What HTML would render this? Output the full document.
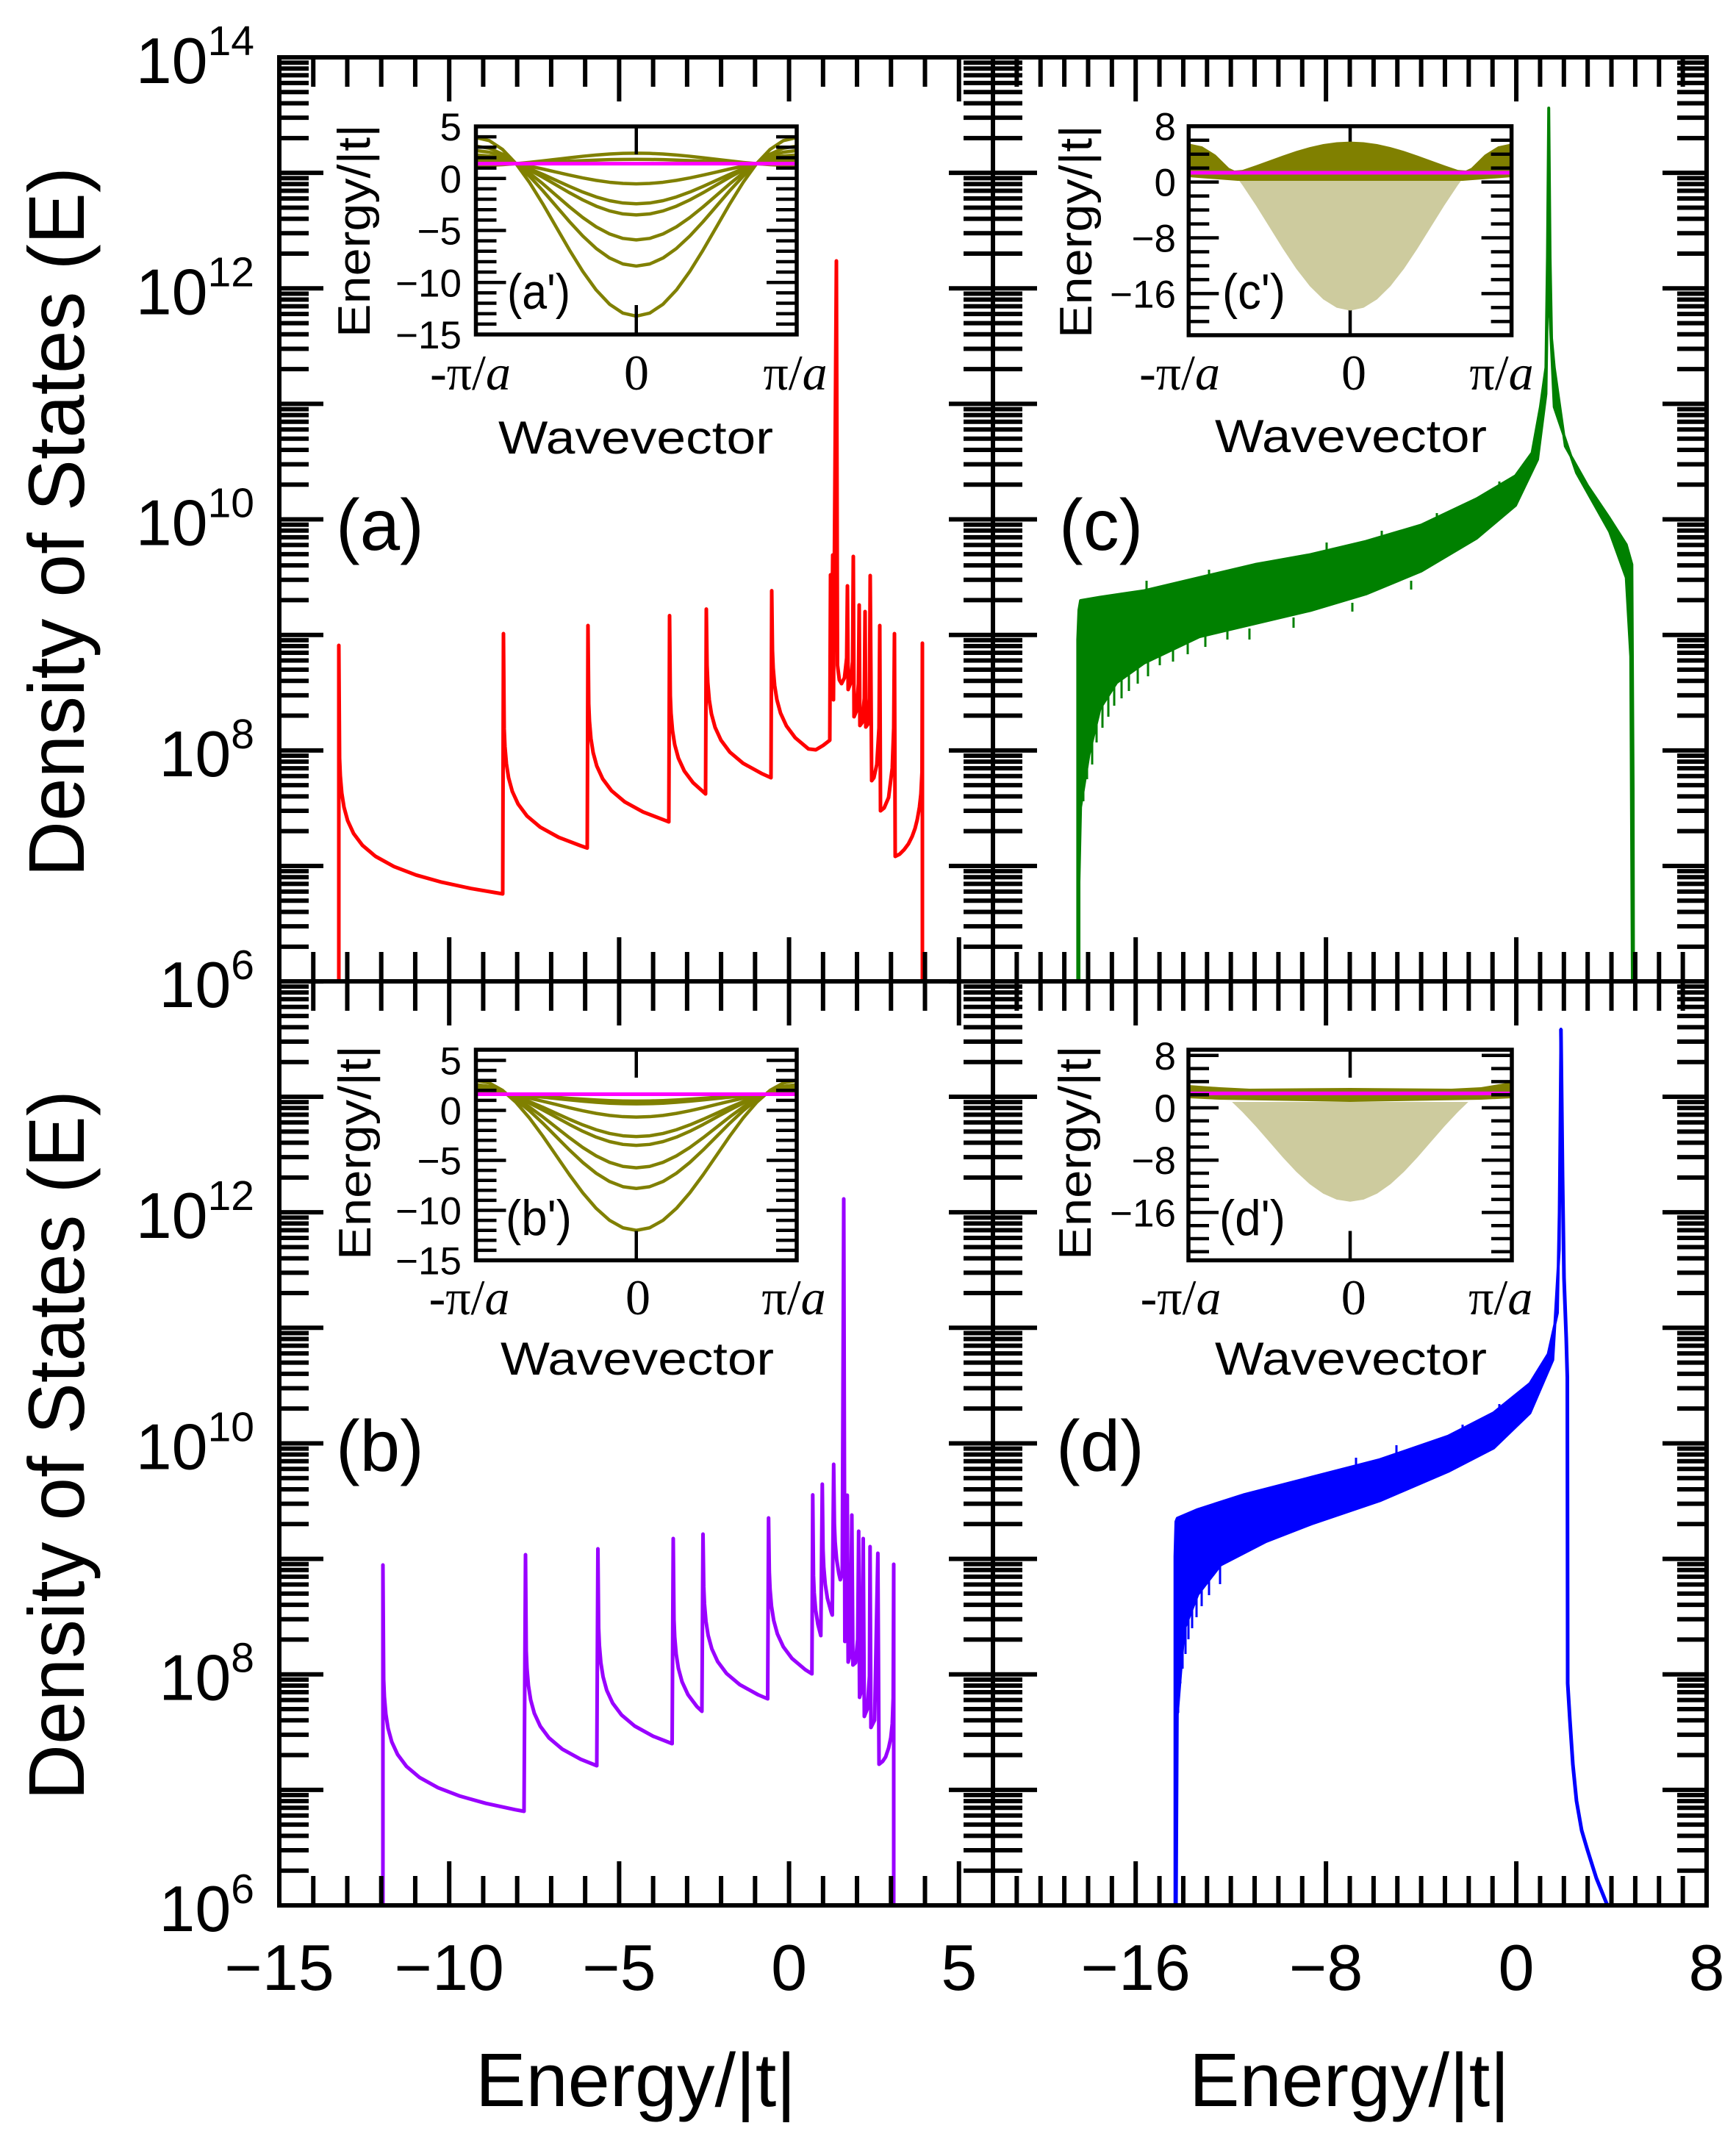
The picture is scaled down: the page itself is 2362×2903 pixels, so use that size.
<!DOCTYPE html>
<html><head><meta charset="utf-8"><style>
html,body{margin:0;padding:0;background:#fff}
svg{display:block}
text{font-family:"Liberation Sans",Arial,sans-serif;fill:#000}
.sf{font-family:"Liberation Serif","Times New Roman",serif}
</style></head><body>
<svg width="2362" height="2903" viewBox="0 0 2362 2903" xmlns="http://www.w3.org/2000/svg">
<defs>
<path id="dL" d="M0,0h60M0,-47.3h40M0,-74.98h40M0,-94.61h40M0,-109.84h40M0,-122.28h40M0,-132.8h40M0,-141.91h40M0,-149.95h40" stroke="#000" stroke-width="6" fill="none"/>
<path id="dR" d="M0,0h-60M0,-47.3h-40M0,-74.98h-40M0,-94.61h-40M0,-109.84h-40M0,-122.28h-40M0,-132.8h-40M0,-141.91h-40M0,-149.95h-40" stroke="#000" stroke-width="6" fill="none"/>
<g id="colL"><use href="#dL" y="0"/><use href="#dL" y="-157.14"/><use href="#dL" y="-314.28"/><use href="#dL" y="-471.42"/><use href="#dL" y="-628.56"/><use href="#dL" y="-785.7"/><use href="#dL" y="-942.84"/><use href="#dL" y="-1099.98"/></g>
<g id="colR"><use href="#dR" y="0"/><use href="#dR" y="-157.14"/><use href="#dR" y="-314.28"/><use href="#dR" y="-471.42"/><use href="#dR" y="-628.56"/><use href="#dR" y="-785.7"/><use href="#dR" y="-942.84"/><use href="#dR" y="-1099.98"/></g>
<path id="xL" stroke="#000" stroke-width="6" fill="none" d="M426.24,0v40M472.48,0v40M518.71,0v40M564.95,0v40M611.19,0v60M657.43,0v40M703.67,0v40M749.9,0v40M796.14,0v40M842.38,0v60M888.62,0v40M934.86,0v40M981.09,0v40M1027.33,0v40M1073.57,0v60M1119.81,0v40M1166.05,0v40M1212.28,0v40M1258.52,0v40M1304.76,0v60"/>
<path id="xR" stroke="#000" stroke-width="6" fill="none" d="M1383.37,0v40M1415.73,0v40M1448.1,0v40M1480.47,0v40M1512.84,0v40M1545.2,0v60M1577.57,0v40M1609.94,0v40M1642.3,0v40M1674.67,0v40M1707.04,0v40M1739.4,0v40M1771.77,0v40M1804.14,0v60M1836.51,0v40M1868.87,0v40M1901.24,0v40M1933.61,0v40M1965.97,0v40M1998.34,0v40M2030.71,0v40M2063.07,0v60M2095.44,0v40M2127.81,0v40M2160.17,0v40M2192.54,0v40M2224.91,0v40M2257.28,0v40M2289.64,0v40"/>
<path id="tA" stroke="#000" stroke-width="4.5" fill="none" d="M0,186.15h28M0,200.3h28M0,214.45h28M0,228.6h28M0,242.75h41M0,256.9h28M0,271.05h28M0,285.2h28M0,299.35h28M0,313.5h41M0,327.65h28M0,341.8h28M0,355.95h28M0,370.1h28M0,384.25h41M0,398.4h28M0,412.55h28M0,426.7h28M0,440.85h28"/>
<path id="tB" stroke="#000" stroke-width="4.5" fill="none" d="M0,1442.5h41M0,1456.1h28M0,1469.7h28M0,1483.3h28M0,1496.9h28M0,1510.5h41M0,1524.1h28M0,1537.7h28M0,1551.3h28M0,1564.9h28M0,1578.5h41M0,1592.1h28M0,1605.7h28M0,1619.3h28M0,1632.9h28M0,1646.5h41M0,1660.1h28M0,1673.7h28M0,1687.3h28M0,1700.9h28"/>
<path id="tC" stroke="#000" stroke-width="4.5" fill="none" d="M0,190.7h28M0,209.7h28M0,228.6h28M0,247.6h41M0,266.6h28M0,285.6h28M0,304.6h28M0,323.5h41M0,342.5h28M0,361.5h28M0,380.4h28M0,399.4h41M0,418.4h28M0,437.4h28"/>
<path id="tD" stroke="#000" stroke-width="4.5" fill="none" d="M0,1435.8h41M0,1453.6h28M0,1471.4h28M0,1489.2h28M0,1507h41M0,1524.8h28M0,1542.6h28M0,1560.4h28M0,1578.2h41M0,1596h28M0,1613.8h28M0,1631.6h28M0,1649.4h41M0,1667.2h28M0,1685h28M0,1702.8h28"/>
<clipPath id="cpa"><rect x="380" y="78" width="971" height="1257"/></clipPath>
<clipPath id="cpb"><rect x="380" y="1335" width="971" height="1257"/></clipPath>
<clipPath id="cpc"><rect x="1351" y="78" width="971" height="1257"/></clipPath>
<clipPath id="cpd"><rect x="1351" y="1335" width="971" height="1257"/></clipPath>
</defs>
<rect x="0" y="0" width="2362" height="2903" fill="#fff"/>

<!-- DATA (a) red -->
<g clip-path="url(#cpa)">
<path fill="none" stroke="#ff0000" stroke-width="5" stroke-linejoin="round" d="M461,1335 L461,878 L462,1031.5 L463,1055.2 L465,1078.8 L468,1097.9 L473,1116.3 L481,1133.7 L493,1149.8 L511,1165 L536,1178.8 L566,1190.3 L601,1200.1 L641,1208.7 L684,1216 L685,862 L686,991.7 L687,1015.4 L689,1039 L692,1058.1 L697,1076.5 L705,1093.9 L717,1110 L735,1125.2 L760,1139 L790,1150.5 L799,1153.6 L800,851 L801,957.3 L802,981 L804,1004.6 L807,1023.7 L812,1042.1 L820,1059.5 L832,1075.6 L850,1090.8 L875,1104.6 L905,1116.1 L910,1118 L911,837.5 L912,946.5 L913,970.2 L915,993.8 L918,1012.9 L923,1031.3 L931,1048.7 L943,1064.8 L960,1080 L961,828.6 L962,904.8 L963,928.5 L965,952.1 L968,971.2 L973,989.6 L981,1007 L993,1023.1 L1011,1038.3 L1036,1052.1 L1049,1058 L1050,803.6 L1051,885 L1052,909 L1054,932.6 L1057,951.7 L1062,970.1 L1070,987.5 L1082,1003.6 L1100,1018.8 L1110,1020 L1120,1014 L1129,1007 L1130,782 L1131,950 L1133,755 L1134,952 L1138,355 L1139.5,905 L1142,925 L1145,930 L1149,922 L1152,895 L1153,797 L1154,938 L1157,930 L1160,900 L1161,757 L1162,975 L1165,968 L1168,930 L1169,823 L1170,987 L1173,983 L1176,950 L1177,832 L1178,989 L1181,985 L1183,950 L1184,783 L1186,1062 L1189,1058 L1193,1040 L1196,990 L1197,851 L1198,1103 L1203,1099 L1209,1085 L1214,1045 L1216,990 L1217,862 L1218,1165 L1224,1162 L1230,1156 L1236,1148 L1241,1138 L1245,1127 L1248,1115 L1251,1098 L1253,1080 L1254.5,1050 L1255,875 L1255,1335"/>
</g>

<!-- DATA (b) purple -->
<g clip-path="url(#cpb)">
<path fill="none" stroke="#9900ff" stroke-width="5" stroke-linejoin="round" d="M521,2592 L521,2129 L522,2284.6 L523,2308.3 L525,2331.9 L528,2351 L533,2369.4 L541,2386.8 L553,2402.9 L571,2418.1 L596,2431.9 L626,2443.4 L661,2453.2 L701,2461.8 L713,2464 L715,2115 L716,2245.9 L717,2269.6 L719,2293.2 L722,2312.3 L727,2330.7 L735,2348.1 L747,2364.2 L765,2379.4 L790,2393.2 L812,2402 L813.5,2107 L814.5,2214.5 L815.5,2238.2 L817.5,2261.8 L820.5,2280.9 L825.5,2299.3 L833.5,2316.7 L845.5,2332.8 L863.5,2348 L888.5,2361.8 L914.5,2372 L916,2093 L917,2203 L918,2226.7 L920,2250.3 L923,2269.4 L928,2287.8 L936,2305.2 L948,2321.3 L955,2328 L956.5,2087 L957.5,2158.2 L958.5,2181.9 L960.5,2205.5 L963.5,2224.6 L968.5,2243 L976.5,2260.4 L988.5,2276.5 L1006.5,2291.7 L1031.5,2305.5 L1044.5,2311 L1045.7,2065 L1046.7,2137.9 L1047.7,2161.6 L1049.7,2185.2 L1052.7,2204.3 L1057.7,2222.7 L1065.7,2240.1 L1077.7,2256.2 L1095.7,2271.4 L1104.7,2277 L1105.8,2033.6 L1106.8,2143.2 L1107.8,2166.9 L1109.8,2190.5 L1112.8,2209.6 L1116.8,2225 L1118.8,2019 L1119.8,2107.9 L1120.8,2131.6 L1122.8,2155.2 L1125.8,2174.3 L1130.8,2192.7 L1132.4,2197 L1134.3,1992 L1135.3,2074 L1136.3,2097.7 L1138.3,2121.3 L1141.3,2140.4 L1143.3,2149 L1146,2140 L1148,1631 L1149.5,2233 L1151,2220 L1152.8,2034 L1154,2261 L1157,2250 L1159,2061 L1160.5,2265 L1164,2262 L1167,2230 L1168.3,2083 L1169.5,2309 L1172,2300 L1174.5,2093 L1176,2335 L1180,2325 L1183,2280 L1183.8,2104 L1185,2350 L1190,2340 L1194.4,2113 L1196,2400 L1201,2396 L1205,2390 L1209,2378 L1212,2364 L1214,2345 L1215.3,2310 L1216,2128 L1216,2592"/>
</g>

<!-- DATA (c) green -->
<g clip-path="url(#cpc)">
<path fill="#008000" stroke="#008000" stroke-width="4" stroke-linejoin="round" d="M1466.4,1335 L1466.4,870 L1468,830 L1470.2,817 L1496.6,812.5 L1556.9,803.6 L1632.3,785.7 L1707.7,767.9 L1783,754.5 L1858.4,736.6 L1933.8,714.3 L2009.2,678.6 L2062,647.3 L2084.6,616 L2095.9,553.6 L2103.4,500 L2105.5,350 L2107.2,147 L2109,350 L2111,460 L2114.7,500 L2129.8,607 L2160,660.7 L2190.1,705.4 L2212.7,741 L2220.3,767.9 L2221,893 L2222,1071 L2222.5,1335 L2221,1335 L2218.8,893 L2212.7,785.7 L2190,723 L2145,643 L2114.7,553.6 L2109,430 L2105,430 L2103.4,535.7 L2092,625 L2062,687.5 L2009.2,732 L1933.8,776.8 L1858.4,808 L1783,830.4 L1707.7,848.2 L1632.3,866 L1556.9,901.8 L1519.2,928.6 L1496.6,964 L1481.5,1027 L1470.2,1098 L1468,1200 L1468,1335 Z"/>
<path fill="none" stroke="#008000" stroke-width="3" d="M1474,850v240M1479,840v220M1486,835v205M1492,830v180M1500,828v162M1508,826v149M1516,824v136M1526,822v128M1536,820v120M1548,818v112M1562,815v105M1578,812v93M1596,808v92M1616,804v86M1640,800v80M1670,795v75M1560,805v-15M1645,790v-15M1805,752v-14M1880,735v-13M1955,712v-14M2040,665v-10M1700,855v15M1760,840v14M1840,820v12M1920,790v12"/>
</g>

<!-- DATA (d) blue -->
<g clip-path="url(#cpd)">
<path fill="#0000ff" stroke="#0000ff" stroke-width="4" stroke-linejoin="round" d="M1598.7,2592 L1598.7,2117 L1600,2070 L1601.8,2065.4 L1629.7,2053.5 L1691.6,2033.6 L1784.5,2009.6 L1877.4,1985.7 L1970.3,1953.8 L2032.2,1922 L2081.7,1882 L2106.5,1842 L2119,1786 L2121.5,1650 L2123.8,1400 L2121.5,1700 L2112.7,1850 L2081.7,1922 L2032.2,1969.8 L1970.3,2001.7 L1877.4,2041.5 L1784.5,2073 L1722.6,2097 L1660.6,2129 L1629.7,2169 L1611,2217 L1601.8,2332.5 L1600.5,2592 Z"/>
<path fill="none" stroke="#0000ff" stroke-width="5" stroke-linejoin="round" d="M2123.8,1400 L2126,1600 L2128,1738.6 L2131,1820 L2132.5,1874 L2133,2290 L2136,2340 L2140,2400 L2145,2450 L2152,2490 L2160,2517 L2172,2555 L2187,2592"/>
<path fill="none" stroke="#0000ff" stroke-width="3" d="M1603,2070v260M1606,2068v222M1609,2066v204M1613,2064v186M1617,2062v168M1622,2060v155M1628,2058v142M1635,2055v130M1645,2052v118M1660,2048v107M1845,1995v-12M1900,1980v-14M1990,1950v-12M2040,1920v-10"/>
</g>

<!-- MAIN TICKS -->
<use href="#colL" x="380" y="1335.12"/>
<use href="#colL" x="380" y="2592"/>
<use href="#colR" x="1351" y="1335.12"/>
<use href="#colR" x="1351" y="2592"/>
<use href="#colL" x="1351" y="1335.12"/>
<use href="#colL" x="1351" y="2592"/>
<use href="#colR" x="2322" y="1335.12"/>
<use href="#colR" x="2322" y="2592"/>
<use href="#xL" y="78"/>
<use href="#xL" transform="translate(0,1335) scale(1,-1)"/>
<use href="#xL" y="1335"/>
<use href="#xL" transform="translate(0,2592) scale(1,-1)"/>
<use href="#xR" y="78"/>
<use href="#xR" transform="translate(0,1335) scale(1,-1)"/>
<use href="#xR" y="1335"/>
<use href="#xR" transform="translate(0,2592) scale(1,-1)"/>

<!-- MAIN FRAME -->
<rect x="380" y="78" width="1942" height="2514" fill="none" stroke="#000" stroke-width="6"/>
<path d="M1351,78V2592M380,1335H2322" stroke="#000" stroke-width="6" fill="none"/>

<!-- INSET a' -->
<g fill="none" stroke="#808000" stroke-width="4.5" stroke-linejoin="round">
<path vector-effect="non-scaling-stroke" transform="translate(865.75,222.66) scale(18.1875,121.48)" d="M-12,-0.2924L-11,-0.2583L-10,-0.1584L-9,-0.0005L-8,0.2076L-7,0.4488L-6,0.7076L-5,0.9664L-4,1.2076L-3,1.4147L-2,1.5736L-1,1.6735L0,1.7076L1,1.6735L2,1.5736L3,1.4147L4,1.2076L5,0.9664L6,0.7076L7,0.4488L8,0.2076L9,-0.0005L10,-0.1584L11,-0.2583L12,-0.2924"/>
<path vector-effect="non-scaling-stroke" transform="translate(865.75,222.66) scale(18.1875,81.55)" d="M-12,-0.2924L-11,-0.2583L-10,-0.1584L-9,-0.0005L-8,0.2076L-7,0.4488L-6,0.7076L-5,0.9664L-4,1.2076L-3,1.4147L-2,1.5736L-1,1.6735L0,1.7076L1,1.6735L2,1.5736L3,1.4147L4,1.2076L5,0.9664L6,0.7076L7,0.4488L8,0.2076L9,-0.0005L10,-0.1584L11,-0.2583L12,-0.2924"/>
<path vector-effect="non-scaling-stroke" transform="translate(865.75,222.66) scale(18.1875,60.75)" d="M-12,-0.2924L-11,-0.2583L-10,-0.1584L-9,-0.0005L-8,0.2076L-7,0.4488L-6,0.7076L-5,0.9664L-4,1.2076L-3,1.4147L-2,1.5736L-1,1.6735L0,1.7076L1,1.6735L2,1.5736L3,1.4147L4,1.2076L5,0.9664L6,0.7076L7,0.4488L8,0.2076L9,-0.0005L10,-0.1584L11,-0.2583L12,-0.2924"/>
<path vector-effect="non-scaling-stroke" transform="translate(865.75,222.66) scale(18.1875,40.85)" d="M-12,-0.2924L-11,-0.2583L-10,-0.1584L-9,-0.0005L-8,0.2076L-7,0.4488L-6,0.7076L-5,0.9664L-4,1.2076L-3,1.4147L-2,1.5736L-1,1.6735L0,1.7076L1,1.6735L2,1.5736L3,1.4147L4,1.2076L5,0.9664L6,0.7076L7,0.4488L8,0.2076L9,-0.0005L10,-0.1584L11,-0.2583L12,-0.2924"/>
<path vector-effect="non-scaling-stroke" transform="translate(865.75,222.66) scale(18.1875,31.98)" d="M-12,-0.2924L-11,-0.2583L-10,-0.1584L-9,-0.0005L-8,0.2076L-7,0.4488L-6,0.7076L-5,0.9664L-4,1.2076L-3,1.4147L-2,1.5736L-1,1.6735L0,1.7076L1,1.6735L2,1.5736L3,1.4147L4,1.2076L5,0.9664L6,0.7076L7,0.4488L8,0.2076L9,-0.0005L10,-0.1584L11,-0.2583L12,-0.2924"/>
<path vector-effect="non-scaling-stroke" transform="translate(865.75,222.66) scale(18.1875,16.07)" d="M-12,-0.2924L-11,-0.2583L-10,-0.1584L-9,-0.0005L-8,0.2076L-7,0.4488L-6,0.7076L-5,0.9664L-4,1.2076L-3,1.4147L-2,1.5736L-1,1.6735L0,1.7076L1,1.6735L2,1.5736L3,1.4147L4,1.2076L5,0.9664L6,0.7076L7,0.4488L8,0.2076L9,-0.0005L10,-0.1584L11,-0.2583L12,-0.2924"/>
<path vector-effect="non-scaling-stroke" transform="translate(865.75,222.66) scale(18.1875,-3.48)" d="M-12,-0.2924L-11,-0.2583L-10,-0.1584L-9,-0.0005L-8,0.2076L-7,0.4488L-6,0.7076L-5,0.9664L-4,1.2076L-3,1.4147L-2,1.5736L-1,1.6735L0,1.7076L1,1.6735L2,1.5736L3,1.4147L4,1.2076L5,0.9664L6,0.7076L7,0.4488L8,0.2076L9,-0.0005L10,-0.1584L11,-0.2583L12,-0.2924"/>
<path vector-effect="non-scaling-stroke" transform="translate(865.75,222.66) scale(18.1875,-8.36)" d="M-12,-0.2924L-11,-0.2583L-10,-0.1584L-9,-0.0005L-8,0.2076L-7,0.4488L-6,0.7076L-5,0.9664L-4,1.2076L-3,1.4147L-2,1.5736L-1,1.6735L0,1.7076L1,1.6735L2,1.5736L3,1.4147L4,1.2076L5,0.9664L6,0.7076L7,0.4488L8,0.2076L9,-0.0005L10,-0.1584L11,-0.2583L12,-0.2924"/>
</g>
<path d="M647.5,222.66H1084" stroke="#ff00ff" stroke-width="5"/>
<use href="#tA" x="647.5"/>
<use href="#tA" transform="translate(1084,0) scale(-1,1)"/>
<path d="M865.75,172v38M865.75,455v-40" stroke="#000" stroke-width="4.5"/>
<rect x="647.5" y="172" width="436.5" height="283" fill="none" stroke="#000" stroke-width="5.5"/>

<!-- INSET b' -->
<g fill="none" stroke="#808000" stroke-width="4.5" stroke-linejoin="round">
<path vector-effect="non-scaling-stroke" transform="translate(865.75,1488.5) scale(18.1875,102)" d="M-12,-0.184L-11,-0.1499L-10,-0.05L-9,0.1089L-8,0.316L-7,0.5572L-6,0.816L-5,1.0748L-4,1.316L-3,1.5231L-2,1.682L-1,1.7819L0,1.816L1,1.7819L2,1.682L3,1.5231L4,1.316L5,1.0748L6,0.816L7,0.5572L8,0.316L9,0.1089L10,-0.05L11,-0.1499L12,-0.184"/>
<path vector-effect="non-scaling-stroke" transform="translate(865.75,1488.5) scale(18.1875,70.62)" d="M-12,-0.184L-11,-0.1499L-10,-0.05L-9,0.1089L-8,0.316L-7,0.5572L-6,0.816L-5,1.0748L-4,1.316L-3,1.5231L-2,1.682L-1,1.7819L0,1.816L1,1.7819L2,1.682L3,1.5231L4,1.316L5,1.0748L6,0.816L7,0.5572L8,0.316L9,0.1089L10,-0.05L11,-0.1499L12,-0.184"/>
<path vector-effect="non-scaling-stroke" transform="translate(865.75,1488.5) scale(18.1875,55.12)" d="M-12,-0.184L-11,-0.1499L-10,-0.05L-9,0.1089L-8,0.316L-7,0.5572L-6,0.816L-5,1.0748L-4,1.316L-3,1.5231L-2,1.682L-1,1.7819L0,1.816L1,1.7819L2,1.682L3,1.5231L4,1.316L5,1.0748L6,0.816L7,0.5572L8,0.316L9,0.1089L10,-0.05L11,-0.1499L12,-0.184"/>
<path vector-effect="non-scaling-stroke" transform="translate(865.75,1488.5) scale(18.1875,38.34)" d="M-12,-0.184L-11,-0.1499L-10,-0.05L-9,0.1089L-8,0.316L-7,0.5572L-6,0.816L-5,1.0748L-4,1.316L-3,1.5231L-2,1.682L-1,1.7819L0,1.816L1,1.7819L2,1.682L3,1.5231L4,1.316L5,1.0748L6,0.816L7,0.5572L8,0.316L9,0.1089L10,-0.05L11,-0.1499L12,-0.184"/>
<path vector-effect="non-scaling-stroke" transform="translate(865.75,1488.5) scale(18.1875,31.76)" d="M-12,-0.184L-11,-0.1499L-10,-0.05L-9,0.1089L-8,0.316L-7,0.5572L-6,0.816L-5,1.0748L-4,1.316L-3,1.5231L-2,1.682L-1,1.7819L0,1.816L1,1.7819L2,1.682L3,1.5231L4,1.316L5,1.0748L6,0.816L7,0.5572L8,0.316L9,0.1089L10,-0.05L11,-0.1499L12,-0.184"/>
<path vector-effect="non-scaling-stroke" transform="translate(865.75,1488.5) scale(18.1875,17.15)" d="M-12,-0.184L-11,-0.1499L-10,-0.05L-9,0.1089L-8,0.316L-7,0.5572L-6,0.816L-5,1.0748L-4,1.316L-3,1.5231L-2,1.682L-1,1.7819L0,1.816L1,1.7819L2,1.682L3,1.5231L4,1.316L5,1.0748L6,0.816L7,0.5572L8,0.316L9,0.1089L10,-0.05L11,-0.1499L12,-0.184"/>
<path vector-effect="non-scaling-stroke" transform="translate(865.75,1488.5) scale(18.1875,7.26)" d="M-12,-0.184L-11,-0.1499L-10,-0.05L-9,0.1089L-8,0.316L-7,0.5572L-6,0.816L-5,1.0748L-4,1.316L-3,1.5231L-2,1.682L-1,1.7819L0,1.816L1,1.7819L2,1.682L3,1.5231L4,1.316L5,1.0748L6,0.816L7,0.5572L8,0.316L9,0.1089L10,-0.05L11,-0.1499L12,-0.184"/>
<path vector-effect="non-scaling-stroke" transform="translate(865.75,1488.5) scale(18.1875,5.17)" d="M-12,-0.184L-11,-0.1499L-10,-0.05L-9,0.1089L-8,0.316L-7,0.5572L-6,0.816L-5,1.0748L-4,1.316L-3,1.5231L-2,1.682L-1,1.7819L0,1.816L1,1.7819L2,1.682L3,1.5231L4,1.316L5,1.0748L6,0.816L7,0.5572L8,0.316L9,0.1089L10,-0.05L11,-0.1499L12,-0.184"/>
</g>
<path d="M647.5,1488.5H1084" stroke="#ff00ff" stroke-width="5"/>
<use href="#tB" x="647.5"/>
<use href="#tB" transform="translate(1084,0) scale(-1,1)"/>
<path d="M865.75,1428v38M865.75,1714.5v-40" stroke="#000" stroke-width="4.5"/>
<rect x="647.5" y="1428" width="436.5" height="286.5" fill="none" stroke="#000" stroke-width="5.5"/>

<!-- INSET c' -->
<path d="M1837,172v38M1837,456v-40" stroke="#000" stroke-width="4.5"/>
<path fill="#808000" d="M1617.35,195.2 L1635.65,199.1 L1653.96,210.5 L1672.26,228.5 L1679.6,232 L1690.57,231.1 L1708.87,224.9 L1727.18,218.3 L1745.48,211.6 L1763.78,205.4 L1782.09,200.1 L1800.39,196 L1818.7,193.45 L1837,192.6 L1855.3,193.45 L1873.61,196 L1891.91,200.1 L1910.22,205.4 L1928.52,211.6 L1946.82,218.3 L1965.13,224.9 L1983.43,231.1 L1994.4,232 L2001.74,228.5 L2020.04,210.5 L2038.35,199.1 L2056.65,195.2 L2056.65,241 L1990,246 L1684,246 L1617.35,241 Z"/>
<path fill="#cdcb9e" d="M1686.2,246 L1690.57,252 L1708.87,279.5 L1727.18,308.9 L1745.48,338.3 L1763.78,365.7 L1782.09,389.2 L1800.39,407.3 L1818.7,418.65 L1837,422.5 L1855.3,418.65 L1873.61,407.3 L1891.91,389.2 L1910.22,365.7 L1928.52,338.3 L1946.82,308.9 L1965.13,279.5 L1983.43,252 L1987.8,246 Z"/>
<path d="M1617.3,235H2056.6" stroke="#ff00ff" stroke-width="5"/>
<use href="#tC" x="1617.3"/>
<use href="#tC" transform="translate(2056.6,0) scale(-1,1)"/>
<rect x="1617.3" y="171.7" width="439.3" height="284.3" fill="none" stroke="#000" stroke-width="5.5"/>

<!-- INSET d' -->
<path d="M1837,1428v38M1837,1714.5v-40" stroke="#000" stroke-width="4.5"/>
<path fill="#808000" d="M1617,1476 L1660,1479 L1700,1481 L1837,1480 L1975,1481 L2015,1479 L2057,1472 L2057,1494 L2015,1496 L1837,1499 L1660,1496 L1617,1494 Z"/>
<path fill="#cdcb9e" d="M1676.2,1499 L1690.33,1512.6 L1708.67,1532.2 L1727,1553.3 L1745.33,1574.4 L1763.67,1594 L1782,1610.9 L1800.33,1623.8 L1818.67,1631.9 L1837,1634.7 L1855.33,1631.9 L1873.67,1623.8 L1892,1610.9 L1910.33,1594 L1928.67,1574.4 L1947,1553.3 L1965.33,1532.2 L1983.67,1512.6 L1997.8,1499 Z"/>
<path d="M1617,1487.4H2057" stroke="#ff00ff" stroke-width="5"/>
<use href="#tD" x="1617"/>
<use href="#tD" transform="translate(2057,0) scale(-1,1)"/>
<rect x="1617" y="1428" width="440" height="286.5" fill="none" stroke="#000" stroke-width="5.5"/>

<!-- MAIN Y TICK LABELS -->
<g font-size="88" text-anchor="end">
<text x="346" y="113">10<tspan font-size="57" dy="-38">14</tspan></text>
<text x="346" y="427.3">10<tspan font-size="57" dy="-38">12</tspan></text>
<text x="346" y="741.6">10<tspan font-size="57" dy="-38">10</tspan></text>
<text x="346" y="1055.8">10<tspan font-size="57" dy="-38">8</tspan></text>
<text x="346" y="1370">10<tspan font-size="57" dy="-38">6</tspan></text>
<text x="346" y="1684.2">10<tspan font-size="57" dy="-38">12</tspan></text>
<text x="346" y="1998.4">10<tspan font-size="57" dy="-38">10</tspan></text>
<text x="346" y="2312.7">10<tspan font-size="57" dy="-38">8</tspan></text>
<text x="346" y="2627">10<tspan font-size="57" dy="-38">6</tspan></text>
</g>
<!-- MAIN X TICK LABELS -->
<g font-size="88" text-anchor="middle">
<text x="380" y="2707">−15</text>
<text x="611.2" y="2707">−10</text>
<text x="842.4" y="2707">−5</text>
<text x="1073.6" y="2707">0</text>
<text x="1304.8" y="2707">5</text>
<text x="1545.2" y="2707">−16</text>
<text x="1804.1" y="2707">−8</text>
<text x="2063" y="2707">0</text>
<text x="2322" y="2707">8</text>
</g>
<!-- AXIS TITLES -->
<text transform="translate(114,710) rotate(-90)" text-anchor="middle" font-size="108" textLength="966" lengthAdjust="spacingAndGlyphs">Density of States (E)</text>
<text transform="translate(114,1966) rotate(-90)" text-anchor="middle" font-size="108" textLength="966" lengthAdjust="spacingAndGlyphs">Density of States (E)</text>
<text x="865" y="2865" text-anchor="middle" font-size="103" textLength="436" lengthAdjust="spacingAndGlyphs">Energy/|t|</text>
<text x="1836" y="2865" text-anchor="middle" font-size="103" textLength="436" lengthAdjust="spacingAndGlyphs">Energy/|t|</text>
<!-- PANEL LABELS -->
<g font-size="98">
<text x="457" y="748">(a)</text>
<text x="457" y="2001">(b)</text>
<text x="1441" y="748">(c)</text>
<text x="1437" y="2001">(d)</text>
</g>

<!-- INSET TEXT -->
<g font-size="53" text-anchor="end">
<text x="628" y="191">5</text>
<text x="628" y="261.8">0</text>
<text x="628" y="332.5">−5</text>
<text x="628" y="403.3">−10</text>
<text x="628" y="474">−15</text>
<text x="628" y="1461.5">5</text>
<text x="628" y="1529.5">0</text>
<text x="628" y="1597.5">−5</text>
<text x="628" y="1665.5">−10</text>
<text x="628" y="1733.5">−15</text>
<text x="1600" y="190.7">8</text>
<text x="1600" y="266.6">0</text>
<text x="1600" y="342.5">−8</text>
<text x="1600" y="418.4">−16</text>
<text x="1600" y="1454.8">8</text>
<text x="1600" y="1526">0</text>
<text x="1600" y="1597.2">−8</text>
<text x="1600" y="1668.4">−16</text>
</g>
<g font-size="68" text-anchor="middle" class="sf">
<text class="sf" x="640" y="530">-π/<tspan font-style="italic">a</tspan></text>
<text class="sf" x="866" y="530">0</text>
<text class="sf" x="1082" y="530">π/<tspan font-style="italic">a</tspan></text>
<text class="sf" x="638.5" y="1788">-π/<tspan font-style="italic">a</tspan></text>
<text class="sf" x="868" y="1788">0</text>
<text class="sf" x="1080" y="1788">π/<tspan font-style="italic">a</tspan></text>
<text class="sf" x="1605" y="530">-π/<tspan font-style="italic">a</tspan></text>
<text class="sf" x="1842" y="530">0</text>
<text class="sf" x="2043" y="530">π/<tspan font-style="italic">a</tspan></text>
<text class="sf" x="1606.5" y="1788">-π/<tspan font-style="italic">a</tspan></text>
<text class="sf" x="1841.8" y="1788">0</text>
<text class="sf" x="2041.7" y="1788">π/<tspan font-style="italic">a</tspan></text>
</g>
<g font-size="63" text-anchor="middle">
<text x="865" y="617" textLength="374" lengthAdjust="spacingAndGlyphs">Wavevector</text>
<text x="1838" y="615" textLength="370" lengthAdjust="spacingAndGlyphs">Wavevector</text>
<text x="867" y="1870" textLength="372" lengthAdjust="spacingAndGlyphs">Wavevector</text>
<text x="1838" y="1870" textLength="370" lengthAdjust="spacingAndGlyphs">Wavevector</text>
</g>
<g font-size="62" text-anchor="middle">
<text transform="translate(503,314) rotate(-90)" textLength="290" lengthAdjust="spacingAndGlyphs">Energy/|t|</text>
<text transform="translate(504,1568) rotate(-90)" textLength="292" lengthAdjust="spacingAndGlyphs">Energy/|t|</text>
<text transform="translate(1485,315) rotate(-90)" textLength="290" lengthAdjust="spacingAndGlyphs">Energy/|t|</text>
<text transform="translate(1484,1568) rotate(-90)" textLength="292" lengthAdjust="spacingAndGlyphs">Energy/|t|</text>
</g>
<g font-size="68">
<text x="690" y="420" textLength="86" lengthAdjust="spacingAndGlyphs">(a')</text>
<text x="688" y="1680" textLength="90" lengthAdjust="spacingAndGlyphs">(b')</text>
<text x="1663" y="420" textLength="86" lengthAdjust="spacingAndGlyphs">(c')</text>
<text x="1659" y="1680" textLength="90" lengthAdjust="spacingAndGlyphs">(d')</text>
</g>
</svg>
</body></html>
